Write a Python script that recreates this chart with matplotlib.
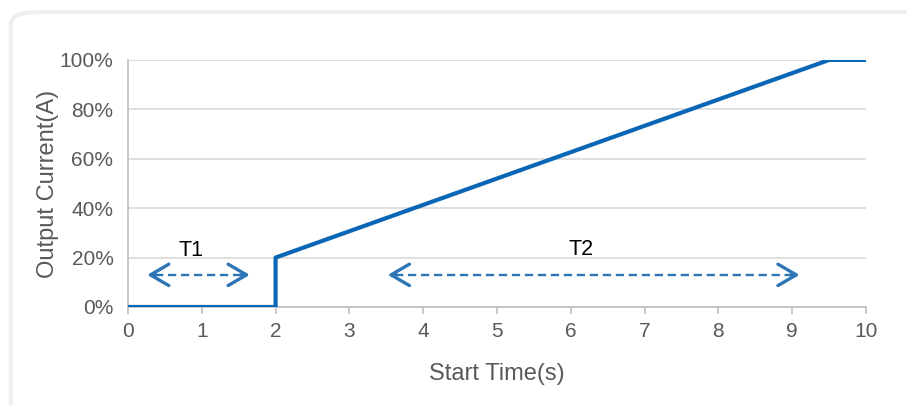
import matplotlib.pyplot as plt
from matplotlib.patches import FancyBboxPatch
from matplotlib.ticker import PercentFormatter

plt.rcParams['font.family'] = ['Liberation Sans', 'DejaVu Sans']

# start-up current profile
time_s = [0, 2, 2, 9.5, 10]
current_pct = [0, 0, 20, 100, 100]

x_ticks = list(range(0, 11))
y_ticks = [0, 20, 40, 60, 80, 100]

# interval markers: (label, start, end, arrow level, label x, label y)
intervals = [("T1", 0.26, 1.65, 13, 0.86, 22.7),
             ("T2", 3.52, 9.1, 13, 6.14, 23.3)]

line_color = "#0a67b5"
arrow_color = "#2e75b6"
text_gray = "#595959"

fig = plt.figure(figsize=(9.07, 4.05), dpi=100)

# light rounded panel border
panel = FancyBboxPatch((0.012, -0.05), 1.05, 1.02, boxstyle="round,pad=0,rounding_size=0.03",
                       transform=fig.transFigure, facecolor="white", edgecolor="#efefef",
                       linewidth=3, zorder=-5)
fig.patches.append(panel)

ax = fig.add_axes([0.1411, 0.242, 0.8137, 0.610])
ax.set_facecolor("none")
ax.set_zorder(2)

ax.plot(time_s, current_pct, color=line_color, linewidth=3, solid_capstyle="butt", zorder=3)

for name, x0, x1, y, tx, ty in intervals:
    ax.plot([x0 + 0.1, x1 - 0.1], [y, y], color=arrow_color, linewidth=1.7,
            linestyle=(0, (3.5, 2)), zorder=2)
    for tip, tail in [(x0, x0 + 0.12), (x1, x1 - 0.12)]:
        ax.annotate("", xy=(tip, y), xytext=(tail, y),
                    arrowprops=dict(arrowstyle="->,head_length=0.6,head_width=0.35",
                                    color=arrow_color, lw=2.4,
                                    mutation_scale=22, shrinkA=0, shrinkB=0))
    ax.text(tx, ty, name, fontsize=15.5, color="black", ha="center", va="center")

ax.set_xlim(0, 10)
ax.set_ylim(0, 100)
ax.set_xticks(x_ticks)
ax.set_yticks(y_ticks)
ax.yaxis.set_major_formatter(PercentFormatter(decimals=0))

ax.grid(axis="y", color="#d9d9d9", linewidth=1.2)
ax.set_axisbelow(True)
for side in ["top", "right"]:
    ax.spines[side].set_visible(False)
for side in ["left", "bottom"]:
    ax.spines[side].set_color("#bfbfbf")
    ax.spines[side].set_linewidth(1.2)

ax.tick_params(axis="x", colors="#bfbfbf", labelcolor=text_gray, labelsize=15, length=5, width=1.2, pad=6)
ax.tick_params(axis="y", length=0, labelcolor=text_gray, labelsize=15, pad=10.5)

ax.set_xlabel("Start Time(s)", fontsize=17, color=text_gray, labelpad=15.5)
ax.set_ylabel("Output Current(A)", fontsize=17, color=text_gray, labelpad=0.5)

fig.savefig("out.png", dpi=100)
